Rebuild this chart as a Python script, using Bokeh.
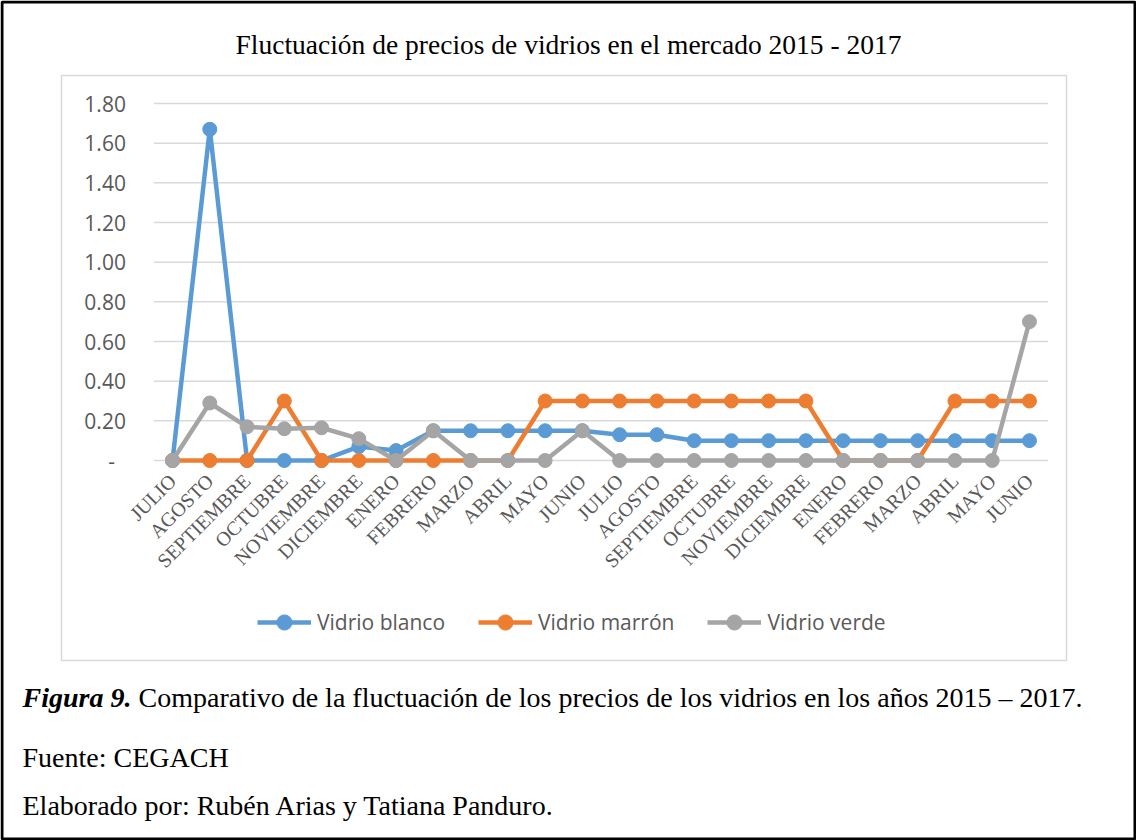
import math
from bokeh.plotting import figure
from bokeh.models import (FixedTicker, Legend, LegendItem, Label, BoxAnnotation, Range1d, LinearAxis)
from bokeh.embed import file_html
from bokeh.resources import INLINE

# ---------------- data ----------------
months = ["JULIO", "AGOSTO", "SEPTIEMBRE", "OCTUBRE", "NOVIEMBRE", "DICIEMBRE",
          "ENERO", "FEBRERO", "MARZO", "ABRIL", "MAYO", "JUNIO",
          "JULIO", "AGOSTO", "SEPTIEMBRE", "OCTUBRE", "NOVIEMBRE", "DICIEMBRE",
          "ENERO", "FEBRERO", "MARZO", "ABRIL", "MAYO", "JUNIO"]
vidrio_blanco = [0.00, 1.67, 0.00, 0.00, 0.00, 0.07, 0.05, 0.15, 0.15, 0.15, 0.15, 0.15,
                 0.13, 0.13, 0.10, 0.10, 0.10, 0.10, 0.10, 0.10, 0.10, 0.10, 0.10, 0.10]
vidrio_marron = [0.00, 0.00, 0.00, 0.30, 0.00, 0.00, 0.00, 0.00, 0.00, 0.00, 0.30, 0.30,
                 0.30, 0.30, 0.30, 0.30, 0.30, 0.30, 0.00, 0.00, 0.00, 0.30, 0.30, 0.30]
vidrio_verde = [0.00, 0.29, 0.17, 0.16, 0.165, 0.11, 0.00, 0.15, 0.00, 0.00, 0.00, 0.15,
                0.00, 0.00, 0.00, 0.00, 0.00, 0.00, 0.00, 0.00, 0.00, 0.00, 0.00, 0.70]
series_names = ["Vidrio blanco", "Vidrio marrón", "Vidrio verde"]
y_ticks = [0.0, 0.2, 0.4, 0.6, 0.8, 1.0, 1.2, 1.4, 1.6, 1.8]
y_tick_labels = ["-\u00a0\u00a0", "0.20", "0.40", "0.60", "0.80", "1.00", "1.20", "1.40", "1.60", "1.80"]

title_text = "Fluctuación de precios de vidrios en el mercado 2015 - 2017"
caption_bold = "Figura 9."
caption_text = "Comparativo de la fluctuación de los precios de los vidrios en los años 2015 – 2017."
source_text = "Fuente: CEGACH"
author_text = "Elaborado por: Rubén Arias y Tatiana Panduro."

# ---------------- layout / styles ----------------
colors = ["#5B9BD5", "#ED7D31", "#A5A5A5"]
grey_text = "#595959"
serif = "Liberation Serif"
sans = "Open Sans"

W, H = 1136, 840
# pixel box of the data area on the canvas
PL, PR, PT, PB = 153.4, 1047.6, 103.0, 460.0
n = len(months)
x_lo, x_hi = -0.5, n - 0.5
y_lo, y_hi = 0.0, 1.8
sx = (PR - PL) / (x_hi - x_lo)
sy = (PB - PT) / (y_hi - y_lo)
x_range = Range1d(x_lo - PL / sx, x_hi + (W - PR) / sx)
y_range = Range1d(y_lo - (H - PB) / sy, y_hi + PT / sy)

x = list(range(n))

p = figure(width=W, height=H, output_backend="svg", toolbar_location=None,
           x_range=x_range, y_range=y_range,
           x_axis_location=None, y_axis_location=None,
           min_border=0, background_fill_color="white", border_fill_color="white")
p.outline_line_color = None
p.xgrid.visible = False
p.ygrid.visible = False

# horizontal gridlines across the category band
p.segment(x0=[x_lo] * len(y_ticks), x1=[x_hi] * len(y_ticks), y0=y_ticks, y1=y_ticks,
          line_color="#D9D9D9", line_width=1.5)

# axes (fixed at the data-area edges)
yaxis = LinearAxis(fixed_location=x_lo, ticker=FixedTicker(ticks=y_ticks),
                   major_label_overrides={t: l for t, l in zip(y_ticks, y_tick_labels)},
                   axis_line_color=None, major_tick_line_color=None, minor_tick_line_color=None,
                   major_tick_out=0, major_tick_in=0, major_label_standoff=28,
                   major_label_text_font=sans, major_label_text_font_size="21px",
                   major_label_text_color=grey_text)
p.add_layout(yaxis, "left")

xaxis = LinearAxis(fixed_location=y_lo, ticker=FixedTicker(ticks=x),
                   major_label_overrides={i: m for i, m in zip(x, months)},
                   axis_line_color=None, major_tick_line_color=None, minor_tick_line_color=None,
                   major_tick_out=0, major_tick_in=0, major_label_standoff=17,
                   major_label_orientation=math.pi / 4,
                   major_label_text_font=serif, major_label_text_font_size="20px",
                   major_label_text_color=grey_text)
p.add_layout(xaxis, "below")

# series
items = []
for vals, name, c in zip([vidrio_blanco, vidrio_marron, vidrio_verde], series_names, colors):
    ln = p.line(x, vals, line_color=c, line_width=4.5, line_join="round")
    sc = p.scatter(x, vals, size=14, fill_color=c, line_color=c)
    items.append(LegendItem(label=name, renderers=[ln, sc]))

legend = Legend(items=items, orientation="horizontal", location=(257, 199),
                glyph_width=54, glyph_height=38, label_standoff=6, spacing=33,
                padding=0, margin=0, border_line_color=None, background_fill_alpha=0,
                label_text_font=sans, label_text_font_size="21px", label_text_color=grey_text)
p.add_layout(legend, "center")

# frames
p.add_layout(BoxAnnotation(left=61, right=1066, top=75, bottom=660,
                           left_units="canvas", right_units="canvas",
                           top_units="canvas", bottom_units="canvas",
                           fill_alpha=0, line_color="#D9D9D9", line_alpha=1, line_width=1.5))
p.add_layout(BoxAnnotation(left=1.5, right=W - 1.5, top=1.5, bottom=H - 1.5,
                           left_units="canvas", right_units="canvas",
                           top_units="canvas", bottom_units="canvas",
                           fill_alpha=0, line_color="black", line_alpha=1, line_width=3))

# texts
def add_text(xp, yp, txt, size="28px", style="normal", align="left"):
    p.add_layout(Label(x=xp, y=yp, x_units="canvas", y_units="canvas", text=txt,
                       text_font=serif, text_font_size=size, text_font_style=style,
                       text_color="black", text_align=align, text_baseline="alphabetic"))

add_text(568, 44, title_text, size="27.5px", align="center")
add_text(22, 697, caption_bold, style="bold italic")
add_text(138, 697, caption_text)
add_text(22, 757, source_text)
add_text(22, 805, author_text)

open("out.html", "w").write(file_html(p, INLINE))
